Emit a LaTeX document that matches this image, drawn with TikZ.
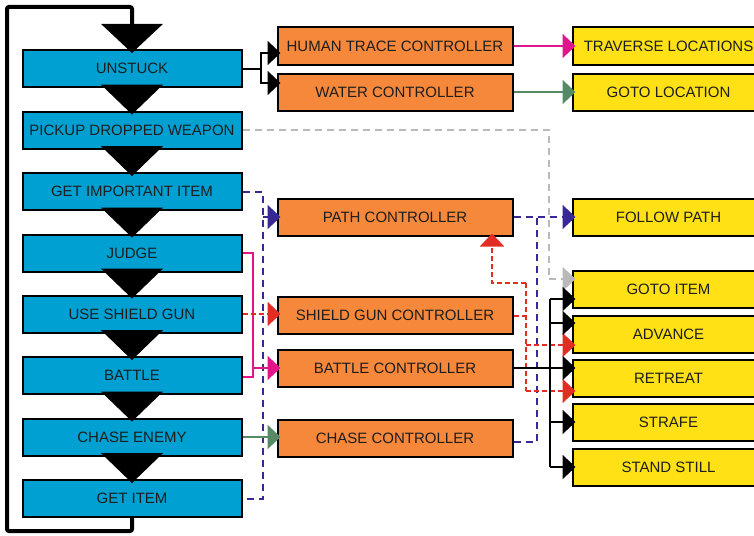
\documentclass[tikz,border=0pt]{standalone}
\usepackage{fontspec}
\setmainfont{Liberation Sans}
\usetikzlibrary{arrows.meta,calc}
\definecolor{bluebox}{RGB}{0,160,210}
\definecolor{orangebox}{RGB}{246,136,60}
\definecolor{yellowbox}{RGB}{255,225,22}
\definecolor{magentac}{RGB}{226,20,140}
\definecolor{greenc}{RGB}{85,138,100}
\definecolor{navyc}{RGB}{55,40,150}
\definecolor{redc}{RGB}{226,45,35}
\definecolor{grayc}{RGB}{185,185,185}
\definecolor{textc}{RGB}{30,30,30}
\begin{document}
\begin{tikzpicture}[x=1pt,y=-1pt,
  box/.style={draw=black,line width=2pt,minimum height=37pt,inner sep=0pt,
    font=\fontsize{15}{18}\selectfont,text=textc},
  lbox/.style={box,fill=bluebox,minimum width=219pt},
  mbox/.style={box,fill=orangebox,minimum width=235pt},
  rbox/.style={box,fill=yellowbox,minimum width=192pt},
  tri/.style={-{Triangle[length=13pt,width=24pt]}},
  conn/.style={line width=2pt},
  blk/.style={conn,draw=black},
  mag/.style={conn,draw=magentac},
  grn/.style={conn,draw=greenc},
  navy/.style={conn,draw=navyc,dash pattern=on 7pt off 5pt},
  redd/.style={conn,draw=redc,dash pattern=on 5pt off 3pt},
  grayd/.style={conn,draw=grayc,dash pattern=on 7pt off 5pt},
  flow/.style={line width=1pt,-{Triangle[length=30pt,width=62pt]}}
]
\clip (0,0) rectangle (754,535);
\fill[white] (0,0) rectangle (754,535);

% left column
\node[lbox] (unstuck) at (132,68.5) {UNSTUCK};
\node[lbox] (pickup) at (132,130) {PICKUP DROPPED WEAPON};
\node[lbox] (getimp) at (132,191.5) {GET IMPORTANT ITEM};
\node[lbox] (judge) at (132,253) {JUDGE};
\node[lbox] (shield) at (132,314) {USE SHIELD GUN};
\node[lbox] (battle) at (132,375.5) {BATTLE};
\node[lbox] (chaseen) at (132,437) {CHASE ENEMY};
\node[lbox] (getitem) at (132,498.5) {GET ITEM};

% middle column
\node[mbox] (human) at (395,46) {HUMAN TRACE CONTROLLER};
\node[mbox] (water) at (395,92) {WATER CONTROLLER};
\node[mbox] (pathc) at (395,217) {PATH CONTROLLER};
\node[mbox] (shieldc) at (395,315.5) {SHIELD GUN CONTROLLER};
\node[mbox] (battlec) at (395,368) {BATTLE CONTROLLER};
\node[mbox] (chasec) at (395,438) {CHASE CONTROLLER};

% right column
\node[rbox] (traverse) at (668.5,46) {TRAVERSE LOCATIONS};
\node[rbox] (gotoloc) at (668.5,92) {GOTO LOCATION};
\node[rbox] (follow) at (668.5,217) {FOLLOW PATH};
\node[rbox] (gotoitem) at (668.5,289.5) {GOTO ITEM};
\node[rbox] (advance) at (668.5,334) {ADVANCE};
\node[rbox] (retreat) at (668.5,378) {RETREAT};
\node[rbox] (strafe) at (668.5,422) {STRAFE};
\node[rbox] (stand) at (668.5,467) {STAND STILL};

% main loop
\draw[line width=4pt,rounded corners=2pt,-{Triangle[length=29pt,width=61pt]}]
  (getitem.south) -- ++(0,13) -| (7,7) -| ($(unstuck.north)+(0,4)$);
% flow triangles
\draw[flow] ($(unstuck.south)+(0,-3)$) -- ($(pickup.north)+(0,4)$);
\draw[flow] ($(pickup.south)+(0,-3)$) -- ($(getimp.north)+(0,4)$);
\draw[flow] ($(getimp.south)+(0,-3)$) -- ($(judge.north)+(0,4)$);
\draw[flow] ($(judge.south)+(0,-3)$) -- ($(shield.north)+(0,4)$);
\draw[flow] ($(shield.south)+(0,-3)$) -- ($(battle.north)+(0,4)$);
\draw[flow] ($(battle.south)+(0,-3)$) -- ($(chaseen.north)+(0,4)$);
\draw[flow] ($(chaseen.south)+(0,-3)$) -- ($(getitem.north)+(0,4)$);

% unstuck fork
\draw[blk] (unstuck.east) -- ++(18,0) coordinate (f1);
\draw[blk,tri] (f1) |- ($(human.west)+(4,7)$);
\draw[blk,tri] (f1) |- ($(water.west)+(4,-9)$);

% human -> traverse, water -> goto location
\draw[mag,tri] (human.east) -- ($(traverse.west)+(4,0)$);
\draw[grn,tri] (water.east) -- ($(gotoloc.west)+(4,0)$);

% pickup -> goto item (gray dashed)
\draw[grayd] (pickup.east) -| (549,279) coordinate (g1);
\draw[grayd,tri] (g1) -- ($(gotoitem.west)+(4,-10.5)$);

% get important item / get item -> path controller
\draw[navy] (getimp.east) -- ++(20,0) coordinate (b1) -- (b1 |- getitem.east) -- (getitem.east);
\draw[navy,tri] (b1 |- pathc.west) -- ($(pathc.west)+(4,0)$);

% judge / battle -> battle controller
\draw[mag] (judge.east) -- ++(10,0) coordinate (m1) -- ($(m1 |- battle.east)+(0,1.5)$) -- ($(battle.east)+(0,1.5)$);
\draw[mag,tri] (m1 |- battlec.west) -- ($(battlec.west)+(4,0)$);

% use shield gun -> shield gun controller
\draw[redd,tri] (shield.east) -- ($(shield.east -| shieldc.west)+(4,0)$);

% chase enemy -> chase controller
\draw[grn,tri] (chaseen.east) -- ($(chaseen.east -| chasec.west)+(4,0)$);

% path -> follow path ; chase controller -> follow path
\draw[navy,tri] (pathc.east) -- ($(follow.west)+(4,0)$);
\draw[navy] ($(chasec.east)+(0,4)$) -| ($(pathc.east)+(23,0)$);

% shield gun controller -> path / advance / retreat
\coordinate (rtop) at (526,283);
\coordinate (rbot) at (526,391);
\draw[redd] (shieldc.east) -- (shieldc.east -| rtop);
\draw[redd] (rtop) -- (rbot);
\draw[redd,tri] (rtop) -| ($(pathc.south)+(97,-3)$);
\draw[redd,tri] ($(rtop |- advance.west)+(0,11)$) -- ($(advance.west)+(4,11)$);
\draw[redd,tri] (rbot) -- ($(retreat.west)+(4,13)$);

% battle controller -> goto item, advance, retreat, strafe, stand still
\coordinate (k1) at (550,299);
\coordinate (k2) at (550,467);
\draw[blk] (k1) -- (k2);
\draw[blk,tri] (battlec.east) -- ($(battlec.east -| retreat.west)+(4,0)$);
\draw[blk,tri] (k1) -- ($(gotoitem.west)+(4,9.5)$);
\draw[blk,tri] ($(k1 |- advance.west)+(0,-11)$) -- ($(advance.west)+(4,-11)$);
\draw[blk,tri] (k1 |- strafe.west) -- ($(strafe.west)+(4,0)$);
\draw[blk,tri] (k2) -- ($(stand.west)+(4,0)$);
\end{tikzpicture}
\end{document}
